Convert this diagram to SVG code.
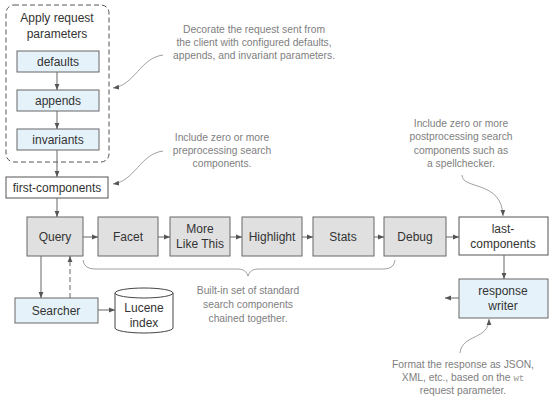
<svg xmlns="http://www.w3.org/2000/svg" width="558" height="404" viewBox="0 0 558 404">
<defs>
<marker id="ah" viewBox="0 0 6 6" refX="6" refY="3" markerWidth="6" markerHeight="6" markerUnits="userSpaceOnUse" orient="auto">
<path d="M0,0.6 L6,3 L0,5.4 Z" fill="#555"/>
</marker>
<style>
.lbl{font-family:"Liberation Sans",Arial,sans-serif;font-size:12px;fill:#333;text-anchor:middle}
.note{font-family:"Liberation Sans",Arial,sans-serif;font-size:10.3px;fill:#808080;text-anchor:middle}
.mono{font-family:"Liberation Mono","Courier New",monospace;font-size:9px;fill:#999}
.gray{fill:#e0e0e0;stroke:#666;stroke-width:1}
.blue{fill:#e6f2fa;stroke:#666;stroke-width:1}
.white{fill:#fff;stroke:#555;stroke-width:1}
.c{fill:none;stroke:#666;stroke-width:1}
.cc{fill:none;stroke:#888;stroke-width:0.8}
</style>
</defs>
<rect width="558" height="404" fill="#fff"/>

<g id="params">
<rect x="6" y="5" width="103" height="157" rx="8" fill="none" stroke="#555" stroke-dasharray="5,3"/>
<text class="lbl" x="57" y="22">Apply request</text>
<text class="lbl" x="57" y="38">parameters</text>
</g>
<g id="defaults"><rect class="blue" x="17" y="51" width="82" height="21"/><text class="lbl" x="58" y="66">defaults</text></g>
<g id="appends"><rect class="blue" x="17" y="90" width="82" height="21"/><text class="lbl" x="58" y="105">appends</text></g>
<g id="invariants"><rect class="blue" x="17" y="129" width="82" height="21"/><text class="lbl" x="58" y="144">invariants</text></g>
<g id="first-components"><rect class="white" x="6" y="177" width="102" height="21"/><text class="lbl" x="57" y="192">first-components</text></g>

<g id="query"><rect class="gray" x="27" y="217" width="56" height="39"/><text class="lbl" x="55" y="241">Query</text></g>
<g id="facet"><rect class="gray" x="98" y="217" width="60" height="39"/><text class="lbl" x="128" y="241">Facet</text></g>
<g id="mlt"><rect class="gray" x="170" y="217" width="60" height="39"/><text class="lbl" x="200" y="233">More</text><text class="lbl" x="200" y="248">Like This</text></g>
<g id="highlight"><rect class="gray" x="242" y="217" width="60" height="39"/><text class="lbl" x="272" y="241">Highlight</text></g>
<g id="stats"><rect class="gray" x="313" y="217" width="61" height="39"/><text class="lbl" x="343" y="241">Stats</text></g>
<g id="debug"><rect class="gray" x="384" y="217" width="62" height="39"/><text class="lbl" x="415" y="241">Debug</text></g>
<g id="last-components"><rect class="white" x="459" y="217" width="89" height="38"/><text class="lbl" x="503" y="233">last-</text><text class="lbl" x="503" y="248">components</text></g>
<g id="response-writer"><rect class="blue" x="459" y="279" width="89" height="39"/><text class="lbl" x="503" y="295">response</text><text class="lbl" x="503" y="310">writer</text></g>
<g id="searcher"><rect class="blue" x="15" y="298" width="83" height="25"/><text class="lbl" x="56" y="315">Searcher</text></g>
<g id="lucene">
<path d="M115,293 L115,328 A29,5 0 0 0 173,328 L173,293" fill="#fff" stroke="#444"/>
<ellipse cx="144" cy="293" rx="29" ry="5" fill="#fff" stroke="#444"/>
<text class="lbl" x="144" y="312">Lucene</text>
<text class="lbl" x="144" y="327">index</text>
</g>

<g id="connectors">
<line class="c" x1="57" y1="72" x2="57" y2="90" marker-end="url(#ah)"/>
<line class="c" x1="57" y1="111" x2="57" y2="129" marker-end="url(#ah)"/>
<line class="c" x1="57" y1="150" x2="57" y2="177" marker-end="url(#ah)"/>
<line class="c" x1="57" y1="198" x2="57" y2="217" marker-end="url(#ah)"/>
<line class="c" x1="83" y1="237" x2="98" y2="237" marker-end="url(#ah)"/>
<line class="c" x1="158" y1="237" x2="170" y2="237" marker-end="url(#ah)"/>
<line class="c" x1="230" y1="237" x2="242" y2="237" marker-end="url(#ah)"/>
<line class="c" x1="302" y1="237" x2="313" y2="237" marker-end="url(#ah)"/>
<line class="c" x1="374" y1="237" x2="384" y2="237" marker-end="url(#ah)"/>
<line class="c" x1="446" y1="237" x2="459" y2="237" marker-end="url(#ah)"/>
<line class="c" x1="504" y1="255" x2="504" y2="279" marker-end="url(#ah)"/>
<line class="c" x1="459" y1="298" x2="445" y2="298" marker-end="url(#ah)"/>
<line class="c" x1="41" y1="256" x2="41" y2="298" marker-end="url(#ah)"/>
<line class="c" x1="70" y1="298" x2="70" y2="256" stroke-dasharray="5,3" marker-end="url(#ah)"/>
<line class="c" x1="98" y1="310" x2="115" y2="310" marker-end="url(#ah)"/>
<path class="cc" d="M83,260 Q84,269 95,269 L238,269 Q246,269 248,276 Q250,269 258,269 L384,269 Q394,269 395,260"/>
<path class="cc" d="M163,55 C140,58 135,85 113,88" marker-end="url(#ah)"/>
<path class="cc" d="M163,151 C140,154 135,181 113,184" marker-end="url(#ah)"/>
<path class="cc" d="M462,175 C462,190 502,180 503,216" marker-end="url(#ah)"/>
<path class="cc" d="M460,353 C462,334 489,340 489,319" marker-end="url(#ah)"/>
</g>

<g id="notes">
<text class="note" x="254" y="33">Decorate the request sent from</text>
<text class="note" x="254" y="46">the client with configured defaults,</text>
<text class="note" x="254" y="59">appends, and invariant parameters.</text>
<text class="note" x="222" y="141">Include zero or more</text>
<text class="note" x="222" y="154">preprocessing search</text>
<text class="note" x="222" y="167">components.</text>
<text class="note" x="461" y="127">Include zero or more</text>
<text class="note" x="461" y="140">postprocessing search</text>
<text class="note" x="461" y="154">components such as</text>
<text class="note" x="461" y="167">a spellchecker.</text>
<text class="note" x="248" y="294">Built-in set of standard</text>
<text class="note" x="248" y="308">search components</text>
<text class="note" x="248" y="322">chained together.</text>
<text class="note" x="463" y="368">Format the response as JSON,</text>
<text class="note" x="463" y="381">XML, etc., based on the <tspan class="mono">wt</tspan></text>
<text class="note" x="463" y="394">request parameter.</text>
</g>
</svg>
